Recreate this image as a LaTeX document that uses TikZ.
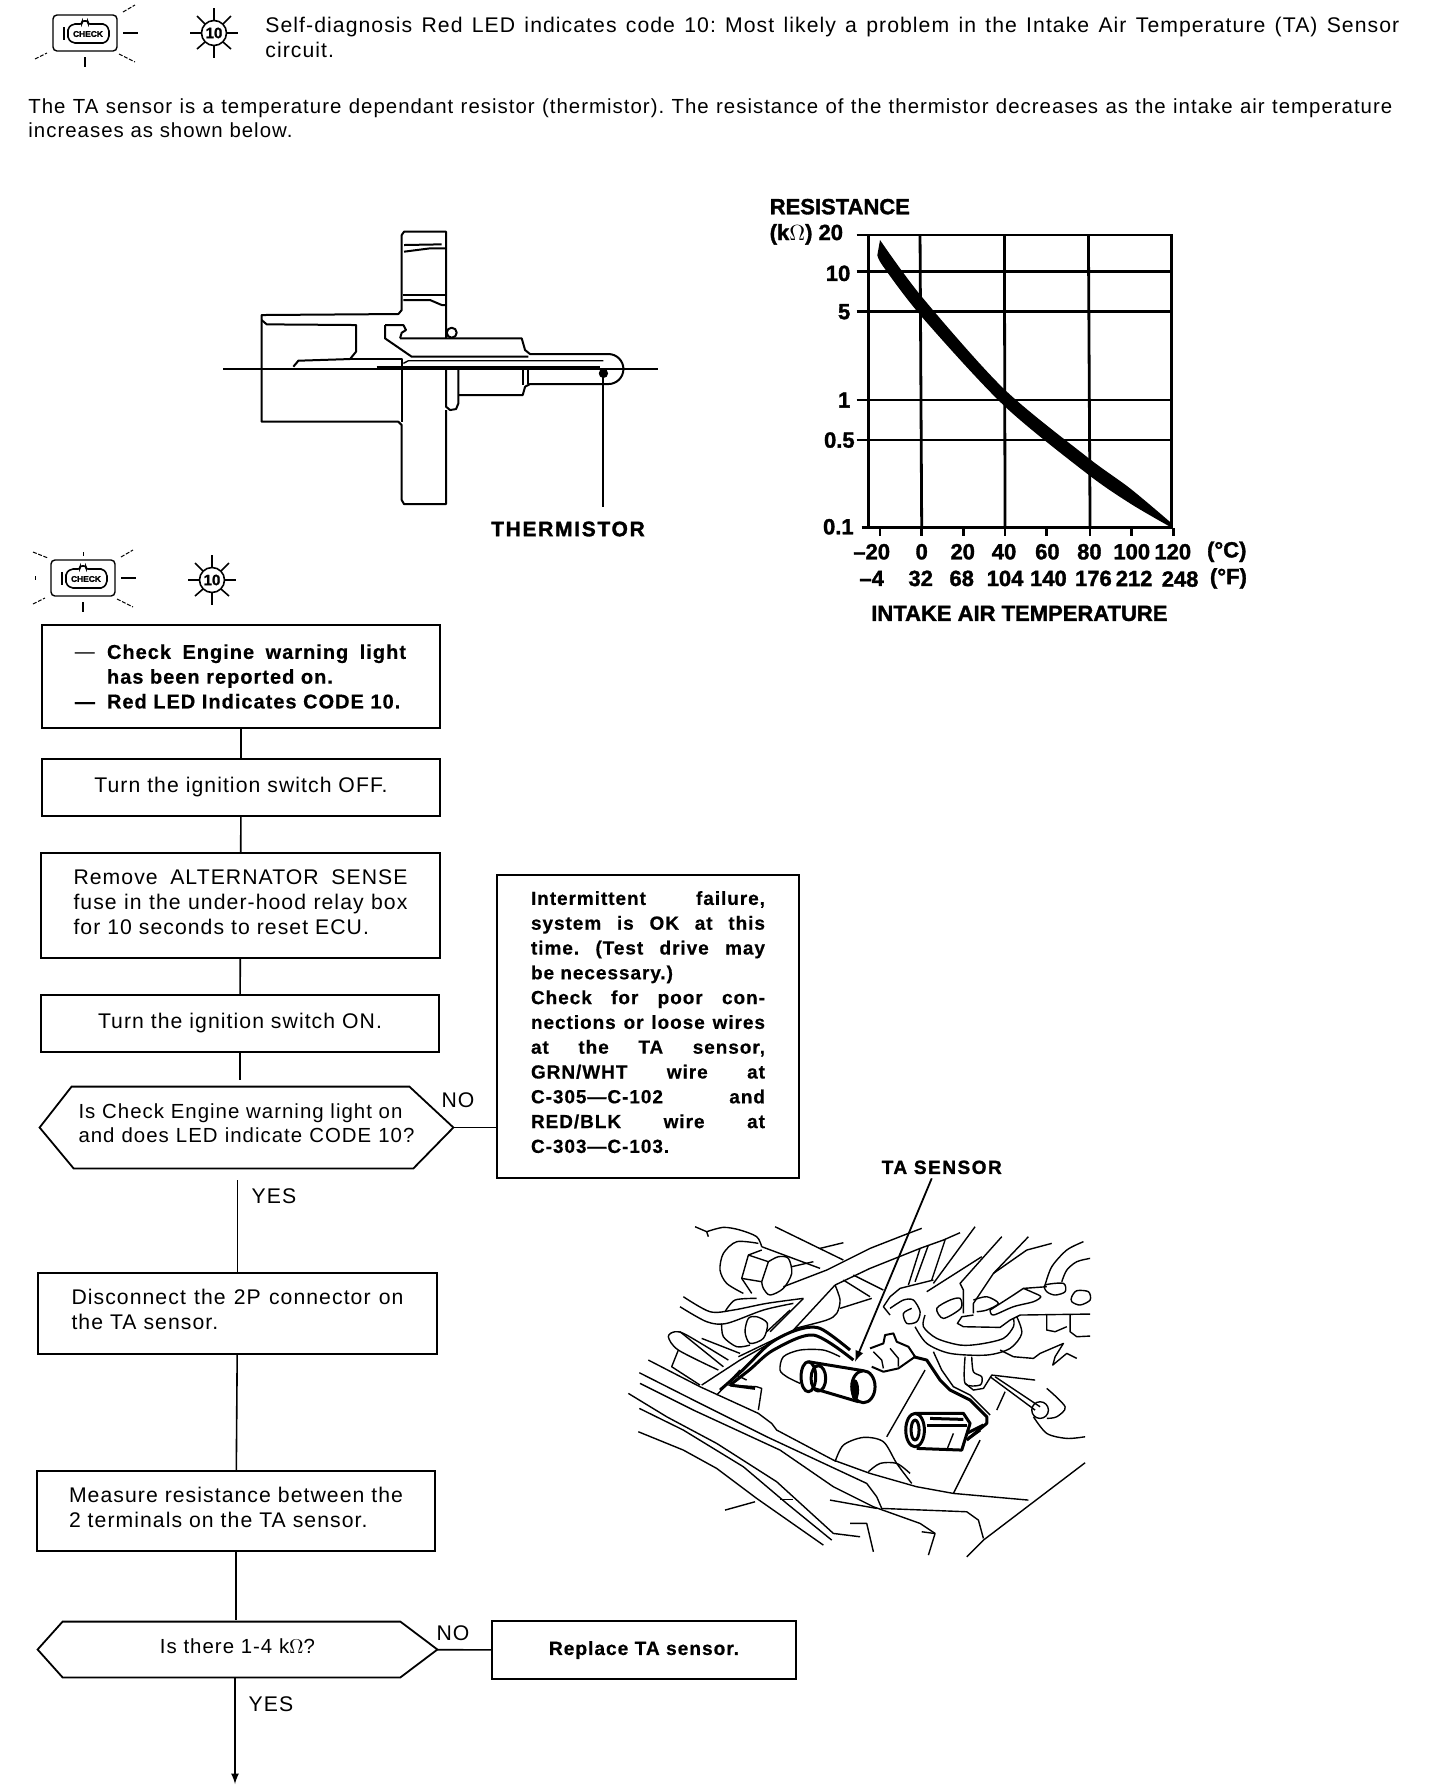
\documentclass[tikz,border=0pt]{standalone}
\usepackage{fontspec}
\setmainfont[LetterSpace=5,BoldFeatures={FakeBold=0.5}]{Liberation Sans}
\newfontfamily\plotfont[BoldFeatures={FakeBold=1.5}]{Liberation Sans}
\AtBeginDocument{\frenchspacing}
\newcommand{\jl}[2]{\makebox[#1][s]{#2}}
\tikzset{
  flowbox/.style={draw,line width=0.9pt,inner sep=0pt,align=left,font=\fontsize{10.6}{12.4}\selectfont},
  hexbox/.style={inner sep=0pt,align=left,font=\fontsize{10.2}{12.4}\selectfont},
  link/.style={line width=0.8pt},
  plain/.style={inner sep=0pt,align=left,font=\fontsize{10.6}{12.3}\selectfont},
  plotlabel/.style={inner sep=0pt,font=\plotfont\bfseries\fontsize{11}{12}\selectfont},
  bay/.style={line width=0.7pt},
  baybold/.style={line width=1.5pt},
  chkicon/.pic={
    \draw[line width=0.7pt,rounded corners=2] (-32,-18) rectangle (32,18);
    \draw[line width=0.8pt,rounded corners=1] (-17,-5) -- (-12,-9) -- (-3,-9) -- (-3,-12) -- (3,-12) -- (3,-9) -- (20,-9) -- (24,-4) -- (24,5) -- (20,10) -- (-12,10) -- (-17,6) -- cycle;
    \draw[line width=0.8pt] (-21,-6) -- (-21,7);
    \node[inner sep=0pt,font=\plotfont\bfseries\fontsize{4.2}{4}\selectfont] (chktext) at (3,1) {CHECK};
    \draw[line width=0.5pt,dash pattern=on 2pt off 0.8pt] (38,-21) -- (50,-28);
    \draw[line width=0.7pt] (38,0) -- (53,0);
    \draw[line width=0.5pt,dash pattern=on 2pt off 0.8pt] (34,21) -- (50,29);
    \draw[line width=0.7pt] (0,24) -- (0,34);
    \draw[line width=0.5pt,dash pattern=on 2pt off 0.8pt] (-50,26) -- (-38,20);
  },
  ledicon/.pic={
    \draw[line width=0.8pt] (0,0) circle (12.5);
    \node[inner sep=0pt,font=\plotfont\bfseries\fontsize{7.5}{8}\selectfont] (ledtext) at (0,0) {10};
    \draw[line width=0.8pt] (0,-13) -- (0,-25);
    \draw[line width=0.8pt] (0,13) -- (0,25);
    \draw[line width=0.8pt] (13,0) -- (24,0);
    \draw[line width=0.8pt] (-13,0) -- (-24,0);
    \draw[line width=0.8pt] (9,-9) -- (17,-17);
    \draw[line width=0.8pt] (-9,-9) -- (-17,-17);
    \draw[line width=0.8pt] (9,9) -- (17,16);
    \draw[line width=0.8pt] (-9,9) -- (-17,16);
  }
}
\begin{document}
\begin{tikzpicture}[x=0.5pt,y=-0.5pt]
\useasboundingbox (0,0) rectangle (1440,1790);
% warning lights
\pic at (85,33) {chkicon};
\pic at (214,33) {ledicon};
\pic at (83,578) {chkicon};
\pic at (212,580) {ledicon};
\draw[line width=0.5pt,dash pattern=on 2pt off 0.8pt] (33,552) -- (48,558);
\draw[line width=0.5pt] (83,552) -- (83,556);
\draw[line width=0.5pt] (35,576) -- (35,580);
% heading text
\node[plain,anchor=north west] (headtext) at (265,17) {\jl{567pt}{Self-diagnosis Red LED indicates code 10: Most likely a problem in the Intake Air Temperature (TA) Sensor}\\circuit.};
\node[plain,anchor=north west,font=\fontsize{10.2}{12.3}\selectfont] (introtext) at (28,98) {\jl{682pt}{The TA sensor is a temperature dependant resistor (thermistor). The resistance of the thermistor decreases as the intake air temperature}\\increases as shown below.};
% sensor section
\begin{scope}[shift={(200,210)},x=0.1667pt,y=-0.1667pt,line width=1pt,line join=round]
\draw (738,385) -- (738,65) -- (612,65) -- (605,75) -- (605,300) -- (595,312) -- (185,315) -- (185,635) -- (595,635) -- (605,645) -- (605,870) -- (612,882) -- (738,882) -- (738,600);
\draw (612,125) -- (690,115) -- (738,115);
\draw (612,105) -- (725,103);
\draw (608,255) -- (738,255);
\draw (610,270) -- (690,270) -- (725,285) -- (738,285);
\draw (185,330) -- (200,343) -- (468,345) -- (468,425) -- (450,447) -- (295,452) -- (280,470);
\draw (450,447) -- (605,447) -- (605,635);
\draw (755,368) circle (15);
\draw (600,385) -- (965,385) -- (975,420) -- (990,432) -- (1225,432) arc (-90:90:45) -- (990,522) -- (975,530) -- (968,555) -- (775,555);
\draw (738,480) -- (738,590) -- (750,600) -- (768,597) -- (775,580) -- (775,480);
\draw (555,345) -- (610,345) -- (618,360) -- (605,368) -- (600,385);
\draw (555,345) -- (555,385) -- (635,440) -- (985,440);
\draw[line width=0.7pt] (610,460) -- (625,452) -- (1210,452);
\draw (968,470) -- (968,525);
\draw (985,470) -- (985,522);
\draw[line width=0.8pt] (70,477) -- (1375,477);
\draw[line width=0.8pt] (530,470) -- (1200,470);
\fill (1210,490) circle (14);
\draw (1210,490) -- (1210,890);
\end{scope}
\node[plotlabel,font=\plotfont\bfseries\fontsize{10.5}{12}\selectfont\addfontfeature{LetterSpace=8}] (thermlabel) at (568,529) {THERMISTOR};
% resistance graph
\begin{scope}[shift={(740,180)},x=0.1667pt,y=-0.1667pt,line width=1.4pt]
\draw (385,165) rectangle (1295,1043);
\draw (540,165) -- (545,1043);
\draw (793,165) -- (795,1043);
\draw (1045,165) -- (1050,1043);
\draw (350,165) -- (385,165);
\draw (350,275) -- (1295,275);
\draw (350,395) -- (1295,395);
\draw (350,660) -- (1295,660);
\draw (350,780) -- (1295,780);
\draw (365,1043) -- (385,1043);
\draw (420,1043) -- (420,1068);
\draw (545,1043) -- (545,1068);
\draw (670,1043) -- (670,1068);
\draw (795,1043) -- (795,1068);
\draw (920,1043) -- (920,1068);
\draw (1050,1043) -- (1050,1068);
\draw (1175,1043) -- (1175,1068);
\draw (1300,1043) -- (1300,1068);
\fill plot[smooth] coordinates {(420,180) (545,350) (790,625) (1040,830) (1170,925) (1295,1030)} -- plot[smooth] coordinates {(1290,1040) (1170,970) (1040,880) (790,675) (545,410) (430,260) (412,225)} -- cycle;
\node[plotlabel,anchor=west] (restitle) at (85,80) {RESISTANCE};
\node[plotlabel,anchor=west] (resunit) at (85,163) {(k$\Omega$) 20};
\node[plotlabel,anchor=east] (resb) at (335,280) {10};
\node[plotlabel,anchor=east] (resc) at (335,395) {5};
\node[plotlabel,anchor=east] (resd) at (335,660) {1};
\node[plotlabel,anchor=east] (rese) at (348,780) {0.5};
\node[plotlabel,anchor=east] (resf) at (345,1040) {0.1};
\node[plotlabel] (degca) at (395,1115) {\textendash 20};
\node[plotlabel] (degcb) at (545,1115) {0};
\node[plotlabel] (degcc) at (668,1115) {20};
\node[plotlabel] (degcd) at (792,1115) {40};
\node[plotlabel] (degce) at (922,1115) {60};
\node[plotlabel] (degcf) at (1048,1115) {80};
\node[plotlabel] (degcg) at (1175,1115) {100};
\node[plotlabel] (degch) at (1298,1115) {120};
\node[plotlabel] (degci) at (1460,1115) {(\textdegree C)};
\node[plotlabel] (degfa) at (395,1195) {\textendash 4};
\node[plotlabel] (degfb) at (542,1195) {32};
\node[plotlabel] (degfc) at (665,1195) {68};
\node[plotlabel] (degfd) at (795,1195) {104};
\node[plotlabel] (degfe) at (925,1195) {140};
\node[plotlabel] (degff) at (1060,1195) {176};
\node[plotlabel] (degfg) at (1182,1195) {212};
\node[plotlabel] (degfh) at (1320,1197) {248};
\node[plotlabel] (degfi) at (1465,1195) {(\textdegree F)};
\node[plotlabel] (airtemp) at (838,1300) {INTAKE AIR TEMPERATURE};
\end{scope}
% flow chart
\node[flowbox,minimum width=199pt,minimum height=51.5pt,font=\fontsize{10}{12.4}\selectfont] (chk) at (241,676.5) {\makebox[16pt][l]{---}\jl{150pt}{\textbf{Check Engine warning light}}\\\hspace*{16pt}\textbf{has been reported on.}\\\makebox[16pt][l]{\textbf{---}}\textbf{Red LED Indicates CODE 10.}};
\node[flowbox,minimum width=199pt,minimum height=28.5pt] (off) at (241,787.5) {Turn the ignition switch OFF.};
\node[flowbox,minimum width=199.5pt,minimum height=52.5pt,text depth=3.7pt] (fuse) at (240.5,905.5) {\jl{167pt}{Remove ALTERNATOR SENSE}\\\jl{167pt}{fuse in the under-hood relay box}\\for 10 seconds to reset ECU.};
\node[flowbox,minimum width=199pt,minimum height=28.5pt] (on) at (240,1023.5) {Turn the ignition switch ON.};
\node[hexbox,minimum width=206.5pt,minimum height=40.5pt,text depth=4.5pt] (isit) at (246.5,1127.5) {\jl{162pt}{Is Check Engine warning light on}\\\jl{168pt}{and does LED indicate CODE 10?}};
\draw[line width=0.9pt] (isit.west) -- ([xshift=16pt]isit.north west) -- ([xshift=-22pt]isit.north east) -- (isit.east) -- ([xshift=-20pt]isit.south east) -- ([xshift=17pt]isit.south west) -- cycle;
\node[flowbox,minimum width=151pt,minimum height=151.5pt,text depth=4.5pt,font=\bfseries\fontsize{9.5}{12.4}\selectfont] (fail) at (648,1026.5) {\jl{117pt}{Intermittent failure,}\\\jl{117pt}{system is OK at this}\\\jl{117pt}{time. (Test drive may}\\be necessary.)\\\jl{117pt}{Check for poor con-}\\\jl{117pt}{nections or loose wires}\\\jl{117pt}{at the TA sensor,}\\\jl{117pt}{GRN/WHT wire at}\\\jl{117pt}{C-305---C-102 and}\\\jl{117pt}{RED/BLK wire at}\\C-303---C-103.};
\node[flowbox,minimum width=199.5pt,minimum height=40.5pt,text depth=4pt] (discon) at (237.5,1313.5) {\jl{166pt}{Disconnect the 2P connector on}\\the TA sensor.};
\node[flowbox,minimum width=199pt,minimum height=40pt,text depth=4pt] (meas) at (236,1511) {\jl{167pt}{Measure resistance between the}\\2 terminals on the TA sensor.};
\node[hexbox,minimum width=199.5pt,minimum height=27.5pt,text depth=3pt] (isok) at (237.5,1649.5) {Is there 1-4 k$\Omega$?};
\draw[line width=0.9pt] (isok.west) -- ([xshift=12.5pt]isok.north west) -- ([xshift=-18.5pt]isok.north east) -- (isok.east) -- ([xshift=-18.5pt]isok.south east) -- ([xshift=12.5pt]isok.south west) -- cycle;
\node[flowbox,minimum width=152pt,minimum height=29pt,font=\bfseries\fontsize{9.6}{12.3}\selectfont] (repl) at (644,1650) {Replace TA sensor.};
\coordinate (flowend) at (235,1784);
\draw[link] (chk) -- (off);
\draw[link] (off) -- (fuse);
\draw[link] (fuse) -- (on);
\draw[link,shorten >=3.5pt] (on.south) -- (on.south |- isit.north);
\draw[link] (isit.east) -- (isit.east -| fail.west);
\draw[link,shorten <=6pt] (isit.south -| discon.north) -- (discon.north);
\draw[link] (discon) -- (meas);
\draw[link,shorten >=1pt] (meas.south) -- (meas.south |- isok.north);
\draw[link] (isok) -- (repl);
\draw[link,-latex] (flowend |- isok.south) -- (flowend);
\node[plain] (noa) at (458,1100) {NO};
\node[plain] (yesa) at (274,1196) {YES};
\node[plain] (nob) at (453,1633) {NO};
\node[plain] (yesb) at (271,1704) {YES};
% engine bay
\begin{scope}[shift={(600,1140)},x=0.1667pt,y=-0.1667pt,bay,line join=round]
\node[plotlabel,font=\plotfont\bfseries\fontsize{9.5}{12}\selectfont\addfontfeature{LetterSpace=8}] (talabel) at (1025,82) {TA SENSOR};
\coordinate (tatip) at (765,665);
\draw[-latex,line width=0.9pt] (995,115) -- (tatip);
% bolt and pipes, upper left
\draw (285,260) -- (320,275) -- (325,290);
\draw plot[smooth] coordinates {(320,275) (370,262) (420,270) (470,290) (485,320)};
\draw plot[smooth] coordinates {(475,310) (410,305) (370,340) (360,390) (380,430) (430,460)};
\draw (485,330) -- (445,345) -- (425,415) -- (455,460);
\draw (425,415) -- (485,425);
\draw (445,345) -- (505,365) -- (485,425);
\draw (485,320) -- (660,385);
\draw plot[smooth] coordinates {(505,365) (535,350) (565,355) (575,400) (550,445) (510,465) (490,445) (485,425)};
\draw (525,260) -- (730,360);
\draw (660,325) -- (730,308);
\draw (575,380) -- (640,365);
\draw (550,440) -- (680,390) -- (810,325) -- (925,280) -- (965,265);
\draw (705,435) -- (810,385) -- (960,325) -- (1030,300) -- (1080,278);
\draw plot[smooth] coordinates {(705,435) (720,480) (710,520) (680,540) (585,565)};
\draw (720,505) -- (815,475);
\draw (730,420) -- (810,470);
\draw (760,405) -- (850,450);
\draw (705,435) -- (580,570) -- (420,660) -- (305,735);
\draw (610,475) -- (510,575);
\draw (540,590) -- (415,650);
\draw (350,765) -- (420,690);
\draw[baybold] plot[smooth] coordinates {(360,750) (430,688) (510,610) (590,570) (660,565) (750,630)};
\draw[baybold] plot[smooth] coordinates {(390,735) (450,688) (520,630) (640,585) (760,660)};
\draw plot[smooth] coordinates {(250,470) (330,515) (400,510) (500,490) (610,475)};
\draw plot[smooth] coordinates {(240,500) (320,545) (380,550) (490,510) (580,490)};
\draw plot[smooth] coordinates {(375,515) (405,480) (470,475)};
\draw plot[smooth] coordinates {(365,550) (370,590) (410,620) (450,615)};
\draw plot[smooth cycle] coordinates {(445,535) (435,575) (450,610) (490,595) (502,550) (470,530)};
\draw (500,575) -- (570,510);
\draw (240,575) -- (370,680);
\draw (305,595) -- (420,640);
\draw plot[smooth] coordinates {(385,660) (260,585) (225,575) (205,590) (235,630) (355,690)};
\draw (235,630) -- (215,680) -- (300,735);
% long sweeps
\draw (145,660) -- (300,740) -- (475,820) -- (515,850) -- (530,870) -- (700,960) -- (810,1000) -- (950,1040) -- (1060,1060) -- (1285,1080);
\draw (118,698) -- (300,790) -- (500,890) -- (800,1030) -- (830,1070) -- (845,1105) -- (1100,1115) -- (1135,1140) -- (1150,1195);
\draw (120,730) -- (280,810) -- (540,930) -- (700,1040) -- (820,1100) -- (960,1150) -- (1005,1180) -- (985,1245);
\draw (85,760) -- (200,830) -- (350,910) -- (530,1025) -- (700,1180) -- (780,1190);
\draw (118,805) -- (250,870) -- (430,980) -- (560,1090) -- (695,1200);
\draw (115,875) -- (250,930) -- (350,985) -- (470,1075) -- (670,1215);
\draw (465,1085) -- (375,1110);
\draw (540,1078) -- (580,1078);
\draw (690,1080) -- (830,1105);
\draw (750,1150) -- (800,1150) -- (820,1235);
\draw (965,1175) -- (1003,1180);
\draw (1100,1250) -- (1150,1200) -- (1455,968);
\draw (1060,1060) -- (1140,900);
\draw plot[smooth] coordinates {(705,965) (730,915) (790,892) (850,905) (890,970) (935,1030)};
\draw plot[smooth] coordinates {(805,995) (840,970) (890,970) (930,1000)};
\draw (860,890) -- (975,690);
\draw (1190,810) -- (1215,755);
\draw (385,735) -- (470,740) -- (485,745) -- (475,810);
\draw (410,705) -- (440,720);
\draw[baybold] (390,735) -- (465,745);
% TA sensor body
\draw plot[smooth] coordinates {(720,650) (670,630) (600,630) (550,650) (540,690) (560,710) (600,730)};
\draw[baybold] (625,710) ellipse (22 and 45);
\draw[baybold] (655,715) ellipse (22 and 38);
\draw[baybold] (625,665) -- (790,692);
\draw[baybold] (640,745) -- (775,785);
\draw[baybold] (790,740) ellipse (35 and 48);
\fill (765,750) ellipse (12 and 32);
\draw[line width=1pt] (810,625) -- (850,610) -- (855,585) -- (880,580) -- (890,605) -- (925,620) -- (945,650) -- (895,685) -- (850,695) -- (815,680);
\draw (820,635) -- (845,660) -- (850,685);
\draw (870,625) -- (895,655) -- (895,680);
\draw[baybold] (940,650) -- (980,660) -- (1020,720) -- (1050,750) -- (1110,780) -- (1160,830) -- (1160,850) -- (1100,900);
\draw (1000,635) -- (1025,690) -- (1060,740) -- (1110,765) -- (1170,825);
% connector
\draw[baybold] (945,820) -- (1090,820) -- (1110,850) -- (1085,930) -- (950,925);
\draw[baybold] (945,870) ellipse (28 and 50);
\draw[baybold] (945,870) ellipse (12 and 30);
\draw[baybold] (980,855) -- (1100,855);
\draw[baybold] (990,835) -- (1090,838);
\draw[baybold] (1100,880) -- (1150,855);
\draw[baybold] (1105,895) -- (1140,870);
\draw (1060,880) -- (1040,930);
% upper right
\draw (960,325) -- (925,435);
\draw (985,315) -- (945,425);
\draw (1035,300) -- (995,420);
\draw (1125,260) -- (1000,430);
\draw (1205,290) -- (1080,430) -- (1090,450) -- (1090,520);
\draw (1285,290) -- (1180,400) -- (1120,490) -- (1120,520);
\draw (1355,310) -- (1280,330) -- (1180,400);
\draw (1145,350) -- (980,455);
\draw (1000,420) -- (900,445) -- (870,470) -- (850,500) -- (870,525);
\draw plot[smooth] coordinates {(870,505) (910,480) (940,480) (960,515) (950,545) (920,550) (910,520) (935,505)};
\draw plot[smooth] coordinates {(975,525) (970,560) (1010,595) (1080,615) (1140,612) (1210,595) (1240,560) (1240,535)};
\draw plot[smooth] coordinates {(945,560) (980,610) (1050,640) (1160,645) (1230,625) (1265,580) (1250,530)};
\draw (1120,525) -- (1085,530) -- (1072,550) -- (1090,560) -- (1200,562) -- (1230,540) -- (1260,525) -- (1470,522);
\draw plot[smooth cycle] coordinates {(1010,505) (1030,535) (1082,505) (1080,475) (1050,480)};
\draw plot[smooth] coordinates {(1120,480) (1160,470) (1195,490) (1160,510) (1130,515)};
\draw (1170,510) -- (1240,465) -- (1270,445) -- (1340,440);
\draw plot[smooth] coordinates {(1170,510) (1180,525) (1240,500) (1300,485) (1322,470) (1300,458) (1270,445)};
\draw plot[smooth cycle] coordinates {(1335,435) (1390,430) (1395,455) (1365,465) (1340,455)};
\draw plot[smooth cycle] coordinates {(1415,470) (1430,452) (1465,455) (1470,480) (1440,495) (1415,485)};
\draw plot[smooth] coordinates {(1335,435) (1355,380) (1400,330) (1450,305)};
\draw plot[smooth] coordinates {(1385,425) (1400,390) (1430,365) (1470,355)};
\draw (1340,522) -- (1340,570) -- (1365,575) -- (1400,560);
\draw (1410,525) -- (1410,575) -- (1430,590) -- (1470,588);
\draw (1200,630) -- (1240,650) -- (1300,655) -- (1320,640) -- (1390,610) -- (1365,650) -- (1358,675) -- (1400,640) -- (1430,655);
\draw plot[smooth] coordinates {(1095,650) (1095,730) (1140,735) (1145,710) (1120,695) (1115,650)};
\draw (1095,730) -- (1120,750) -- (1150,745) -- (1175,705) -- (1305,720);
\draw (1170,710) -- (1305,810);
\draw (1185,710) -- (1320,800);
\draw (1320,810) circle (25);
\draw plot[smooth] coordinates {(1340,745) (1395,800) (1370,830) (1340,835)};
\draw plot[smooth] coordinates {(1300,830) (1340,880) (1400,895) (1455,890)};
\end{scope}
\end{tikzpicture}
\end{document}
